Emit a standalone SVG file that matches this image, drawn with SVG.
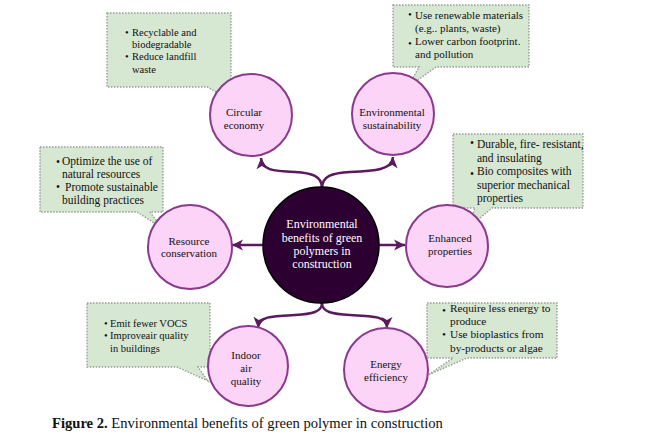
<svg xmlns="http://www.w3.org/2000/svg" width="657" height="443" viewBox="0 0 657 443">
<defs>
<marker id="ah" markerUnits="userSpaceOnUse" markerWidth="12" markerHeight="12" viewBox="0 0 12 12" refX="11" refY="6" orient="auto">
<path d="M0,0.5 L11,6 L0,11.5 L3,6 Z" fill="#5b1a5e"/>
</marker>
<style>
text{font-family:"Liberation Serif","Times New Roman",serif;fill:#111}
.node{fill:#fbd4f7;stroke:#8a3a8c;stroke-width:2}
.hub{fill:#2d0032;stroke:#000;stroke-width:1.5}
.call{fill:#d6e7d2;stroke:#9a9a9a;stroke-width:1.4;stroke-dasharray:1.5 1.5}
.con{fill:none;stroke:#5b1a5e;stroke-width:2.5;marker-end:url(#ah)}
.lbl{font-size:11px;text-anchor:middle}
.ct{font-size:10.5px}
.c2{font-size:11px}
.c3{font-size:11.5px}
.c6{font-size:11.3px}
.hubt{font-size:12px;text-anchor:middle;fill:#fff}
</style>
</defs>
<rect width="657" height="443" fill="#fff"/>

<g id="connectors">
<path class="con" d="M322,188 C322,176 312,173 295,172 C272,171 262,170 261,158"/>
<path class="con" d="M322,188 C322,176 332,173 350,172 C375,171 392,170 393,157"/>
<path class="con" d="M263,245 H232"/>
<path class="con" d="M379,245 H405"/>
<path class="con" d="M322,303 C322,312 312,314 295,315 C272,316 259,316 258,328"/>
<path class="con" d="M322,303 C322,312 332,314 350,315 C373,316 387,316 387,328"/>
</g>

<g id="callout-circular">
<path class="call" d="M107,13 H231 V87 H223 L229,99 L207,87 H107 Z"/>
<text class="ct" x="125" y="36">•</text>
<text class="ct" x="132" y="36">Recyclable and</text>
<text class="ct" x="132" y="48">biodegradable</text>
<text class="ct" x="125" y="60">•</text>
<text class="ct" x="132" y="60">Reduce landfill</text>
<text class="ct" x="132" y="73">waste</text>
</g>

<g id="callout-environmental">
<path class="call" d="M393,5 H529 V67 H436 L408,87 L419,67 H393 Z"/>
<text class="c2" x="408" y="18">•</text>
<text class="c2" x="415" y="19">Use renewable materials</text>
<text class="c2" x="415" y="32">(e.g.. plants, waste)</text>
<text class="c2" x="408" y="47">•</text>
<text class="c2" x="415" y="45">Lower carbon footprint.</text>
<text class="c2" x="415" y="58">and pollution</text>
</g>

<g id="callout-resource">
<path class="call" d="M40,147 H163 V212 H150 L162,228 L137,212 H40 Z"/>
<text class="c3" x="56" y="166">•</text>
<text class="c3" x="62" y="165">Optimize the use of</text>
<text class="c3" x="62" y="178">natural resources</text>
<text class="c3" x="56" y="191">•</text>
<text class="c3" x="65" y="191">Promote sustainable</text>
<text class="c3" x="62" y="204">building practices</text>
</g>

<g id="callout-enhanced">
<path class="call" d="M453,134 H583 V208 H492 L468,228 L475,208 H453 Z"/>
<text class="c3" x="470" y="147">•</text>
<text class="c3" x="477" y="148">Durable, fire- resistant,</text>
<text class="c3" x="477" y="162">and insulating</text>
<text class="c3" x="470" y="178">•</text>
<text class="c3" x="477" y="175">Bio composites with</text>
<text class="c3" x="477" y="189">superior mechanical</text>
<text class="c3" x="477" y="202">properties</text>
</g>

<g id="callout-indoor">
<path class="call" d="M87,303 H210 V367 H198 L208,381 L177,367 H87 Z"/>
<text class="ct" x="104" y="327">•</text>
<text class="ct" x="110" y="327">Emit fewer VOCS</text>
<text class="ct" x="104" y="339">•</text>
<text class="ct" x="110" y="339">Improveair quality</text>
<text class="ct" x="110" y="352">in buildings</text>
</g>

<g id="callout-energy">
<path class="call" d="M427,303 H557 V358 H467 L428,375 L453,358 H427 Z"/>
<text class="c6" x="442" y="314">•</text>
<text class="c6" x="450" y="312">Require less energy to</text>
<text class="c6" x="450" y="325">produce</text>
<text class="c6" x="442" y="338">•</text>
<text class="c6" x="450" y="338">Use bioplastics from</text>
<text class="c6" x="450" y="352">by-products or algae</text>
</g>

<g id="node-hub">
<circle class="hub" cx="321" cy="245" r="58"/>
<text class="hubt" x="322" y="228">Environmental</text>
<text class="hubt" x="322" y="242">benefits of green</text>
<text class="hubt" x="322" y="255">polymers in</text>
<text class="hubt" x="322" y="268">construction</text>
</g>

<g id="node-circular">
<circle class="node" cx="251" cy="115" r="41"/>
<text class="lbl" x="244" y="116">Circular</text>
<text class="lbl" x="244" y="129">economy</text>
</g>

<g id="node-environmental">
<circle class="node" cx="393" cy="114" r="41"/>
<text class="lbl" x="392" y="116">Environmental</text>
<text class="lbl" x="392" y="129">sustainability</text>
</g>

<g id="node-resource">
<circle class="node" cx="190" cy="247" r="42"/>
<text class="lbl" x="189" y="245">Resource</text>
<text class="lbl" x="189" y="257">conservation</text>
</g>

<g id="node-enhanced">
<circle class="node" cx="447" cy="246" r="41"/>
<text class="lbl" x="450" y="242">Enhanced</text>
<text class="lbl" x="450" y="255">properties</text>
</g>

<g id="node-indoor">
<circle class="node" cx="248" cy="366" r="40"/>
<text class="lbl" x="246" y="359">Indoor</text>
<text class="lbl" x="246" y="372">air</text>
<text class="lbl" x="246" y="385">quality</text>
</g>

<g id="node-energy">
<circle class="node" cx="386" cy="370" r="42"/>
<text class="lbl" x="386" y="368">Energy</text>
<text class="lbl" x="386" y="381">efficiency</text>
</g>

<text x="52" y="428" style="font-size:14.6px"><tspan font-weight="bold">Figure 2.</tspan> Environmental benefits of green polymer in construction</text>
</svg>
